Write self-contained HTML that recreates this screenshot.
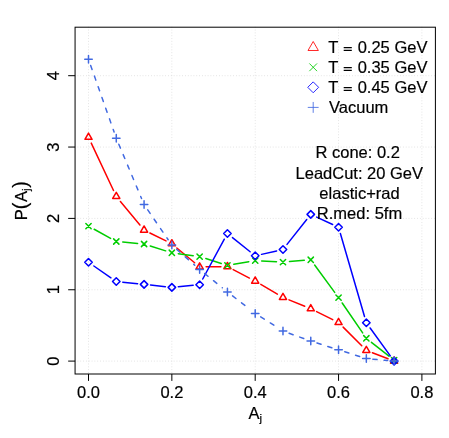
<!DOCTYPE html>
<html><head><meta charset="utf-8"><title>plot</title>
<style>
html,body{margin:0;padding:0;background:#fff;}
body{width:449px;height:438px;position:relative;overflow:hidden;font-family:"Liberation Sans",sans-serif;color:#000;}
svg{position:absolute;left:0;top:0;display:block;will-change:transform;}
svg text{stroke:#000;stroke-width:0.2px;}
</style></head><body>
<svg width="449" height="438" viewBox="0 0 449 438" font-family="'Liberation Sans', sans-serif" fill="#000">
<path d="M88.50,27.2V374.0M171.85,27.2V374.0M255.20,27.2V374.0M338.55,27.2V374.0M421.90,27.2V374.0M75.07,361.10H435.4M75.07,289.75H435.4M75.07,218.40H435.4M75.07,147.05H435.4M75.07,75.70H435.4" stroke="#d3d3d3" stroke-width="0.75" stroke-dasharray="0 2.83" stroke-linecap="round" fill="none"/>
<path d="M91.26,143.08L113.52,190.52M120.42,201.42L139.93,225.08M149.90,232.97L166.02,240.93M176.85,247.96L194.64,262.74M206.13,266.83L220.92,266.67M233.18,269.61L249.44,278.09M260.81,284.39L277.38,294.11M289.00,299.85L304.75,306.25M316.59,311.59L332.73,319.61M343.14,327.11L361.75,345.79M372.40,352.74L388.05,358.76" stroke="#ff0000" stroke-width="1.5" stroke-linecap="round" fill="none"/>
<g stroke="#ff0000" stroke-width="1.5" stroke-linecap="round" stroke-linejoin="round" fill="none"><path d="M88.50,133.08L92.07,139.26L84.93,139.26Z"/><path d="M116.28,192.28L119.85,198.46L112.71,198.46Z"/><path d="M144.07,225.98L147.64,232.16L140.50,232.16Z"/><path d="M171.85,239.68L175.42,245.86L168.28,245.86Z"/><path d="M199.63,262.78L203.20,268.96L196.06,268.96Z"/><path d="M227.42,262.48L230.99,268.66L223.85,268.66Z"/><path d="M255.20,276.98L258.77,283.16L251.63,283.16Z"/><path d="M282.98,293.28L286.55,299.46L279.41,299.46Z"/><path d="M310.77,304.58L314.34,310.76L307.20,310.76Z"/><path d="M338.55,318.38L342.12,324.56L334.98,324.56Z"/><path d="M366.33,346.28L369.90,352.46L362.76,352.46Z"/><path d="M394.12,356.98L397.69,363.16L390.55,363.16Z"/></g>
<path d="M94.19,229.25L110.60,238.35M122.76,242.08L137.59,243.42M150.26,245.96L165.65,250.84M178.29,253.68L193.19,255.72M205.83,258.56L221.22,263.44M233.82,264.29L248.79,261.71M261.69,260.95L276.49,261.75M289.46,261.56L304.29,260.34M314.62,265.04L334.70,292.36M342.21,302.97L362.67,332.93M371.44,342.32L389.01,356.18" stroke="#00cd00" stroke-width="1.5" stroke-linecap="round" fill="none"/>
<g stroke="#00cd00" stroke-width="1.5" stroke-linecap="round" stroke-linejoin="round" fill="none"><path d="M85.85,223.45L91.15,228.75M85.85,228.75L91.15,223.45"/><path d="M113.63,238.85L118.93,244.15M113.63,244.15L118.93,238.85"/><path d="M141.42,241.35L146.72,246.65M141.42,246.65L146.72,241.35"/><path d="M169.20,250.15L174.50,255.45M169.20,255.45L174.50,250.15"/><path d="M196.98,253.95L202.28,259.25M196.98,259.25L202.28,253.95"/><path d="M224.77,262.75L230.07,268.05M224.77,268.05L230.07,262.75"/><path d="M252.55,257.95L257.85,263.25M252.55,263.25L257.85,257.95"/><path d="M280.33,259.45L285.63,264.75M280.33,264.75L285.63,259.45"/><path d="M308.12,257.15L313.42,262.45M308.12,262.45L313.42,257.15"/><path d="M335.90,294.95L341.20,300.25M335.90,300.25L341.20,294.95"/><path d="M363.68,335.65L368.98,340.95M363.68,340.95L368.98,335.65"/><path d="M391.47,357.55L396.77,362.85M391.47,362.85L396.77,357.55"/></g>
<path d="M93.85,266.00L110.94,277.80M122.75,282.17L137.60,283.73M150.53,285.10L165.39,286.70M178.32,286.77L193.16,285.33M202.73,278.99L224.32,239.21M232.49,237.57L250.13,251.73M261.54,254.36L276.64,250.94M287.02,244.40L306.73,219.50M316.67,217.12L332.65,224.48M340.37,233.44L364.52,316.46M370.14,327.97L390.31,355.83" stroke="#0000ff" stroke-width="1.5" stroke-linecap="round" fill="none"/>
<g stroke="#0000ff" stroke-width="1.5" stroke-linecap="round" stroke-linejoin="round" fill="none"><path d="M84.75,262.30L88.50,266.05L92.25,262.30L88.50,258.55Z"/><path d="M112.54,281.50L116.28,285.25L120.03,281.50L116.28,277.75Z"/><path d="M140.32,284.40L144.07,288.15L147.81,284.40L144.07,280.65Z"/><path d="M168.10,287.40L171.85,291.15L175.60,287.40L171.85,283.65Z"/><path d="M195.89,284.70L199.63,288.45L203.38,284.70L199.63,280.95Z"/><path d="M223.67,233.50L227.42,237.25L231.16,233.50L227.42,229.75Z"/><path d="M251.45,255.80L255.20,259.55L258.95,255.80L255.20,252.05Z"/><path d="M279.24,249.50L282.98,253.25L286.73,249.50L282.98,245.75Z"/><path d="M307.02,214.40L310.77,218.15L314.51,214.40L310.77,210.65Z"/><path d="M334.80,227.20L338.55,230.95L342.30,227.20L338.55,223.45Z"/><path d="M362.59,322.70L366.33,326.45L370.08,322.70L366.33,318.95Z"/><path d="M390.37,361.10L394.12,364.85L397.86,361.10L394.12,357.35Z"/></g>
<path d="M90.66,65.43L114.12,132.07M118.80,144.19L141.55,198.51M147.74,209.86L168.18,239.74M176.73,249.39L194.75,265.21M204.69,273.58L222.36,287.82M232.56,295.88L250.06,309.42M260.69,316.88L277.49,327.52M289.09,333.22L304.66,338.88M316.97,343.04L332.35,347.86M344.75,351.76L360.14,356.64M372.81,359.18L387.64,360.52" stroke="#4169e1" stroke-width="1.5" stroke-linecap="round" fill="none" stroke-dasharray="4.25 7.08"/>
<g stroke="#4169e1" stroke-width="1.5" stroke-linecap="round" stroke-linejoin="round" fill="none"><path d="M84.75,59.30L92.25,59.30M88.50,55.55L88.50,63.05"/><path d="M112.54,138.20L120.03,138.20M116.28,134.45L116.28,141.95"/><path d="M140.32,204.50L147.81,204.50M144.07,200.75L144.07,208.25"/><path d="M168.10,245.10L175.60,245.10M171.85,241.35L171.85,248.85"/><path d="M195.89,269.50L203.38,269.50M199.63,265.75L199.63,273.25"/><path d="M223.67,291.90L231.16,291.90M227.42,288.15L227.42,295.65"/><path d="M251.45,313.40L258.95,313.40M255.20,309.65L255.20,317.15"/><path d="M279.24,331.00L286.73,331.00M282.98,327.25L282.98,334.75"/><path d="M307.02,341.10L314.51,341.10M310.77,337.35L310.77,344.85"/><path d="M334.80,349.80L342.30,349.80M338.55,346.05L338.55,353.55"/><path d="M362.59,358.60L370.08,358.60M366.33,354.85L366.33,362.35"/><path d="M390.37,361.10L397.86,361.10M394.12,357.35L394.12,364.85"/></g>
<rect x="75.07" y="27.2" width="360.33" height="346.80" fill="none" stroke="#000" stroke-width="1.0"/>
<path d="M88.50,374.0v6.9M171.85,374.0v6.9M255.20,374.0v6.9M338.55,374.0v6.9M421.90,374.0v6.9M75.07,361.10h-6.9M75.07,289.75h-6.9M75.07,218.40h-6.9M75.07,147.05h-6.9M75.07,75.70h-6.9" stroke="#000" stroke-width="1.0" fill="none"/>
<g stroke="#ff0000" stroke-width="0.85" fill="none"><path d="M313.20,41.51L318.39,50.49L308.01,50.49Z"/></g>
<g stroke="#00cd00" stroke-width="0.85" fill="none"><path d="M309.35,63.45L317.05,71.15M309.35,71.15L317.05,63.45"/></g>
<g stroke="#0000ff" stroke-width="0.85" fill="none"><path d="M307.76,87.30L313.20,92.74L318.64,87.30L313.20,81.86Z"/></g>
<g stroke="#4169e1" stroke-width="0.85" fill="none"><path d="M307.76,107.40L318.64,107.40M313.20,101.96L313.20,112.84"/></g>
<text x="88.5" y="397.9" text-anchor="middle" font-size="16.5">0.0</text>
<text x="171.85" y="397.9" text-anchor="middle" font-size="16.5">0.2</text>
<text x="255.2" y="397.9" text-anchor="middle" font-size="16.5">0.4</text>
<text x="338.55" y="397.9" text-anchor="middle" font-size="16.5">0.6</text>
<text x="421.9" y="397.9" text-anchor="middle" font-size="16.5">0.8</text>
<text x="328.2" y="53.2" text-anchor="start" font-size="16.5">T</text>
<path d="M343.7,47.60H351.8M343.7,50.30H351.8" stroke="#000" stroke-width="1.25" fill="none"/>
<text x="357.7" y="53.2" text-anchor="start" font-size="16.5">0.25 GeV</text>
<text x="328.2" y="73.2" text-anchor="start" font-size="16.5">T</text>
<path d="M343.7,67.60H351.8M343.7,70.30H351.8" stroke="#000" stroke-width="1.25" fill="none"/>
<text x="357.7" y="73.2" text-anchor="start" font-size="16.5">0.35 GeV</text>
<text x="328.2" y="93.2" text-anchor="start" font-size="16.5">T</text>
<path d="M343.7,87.60H351.8M343.7,90.30H351.8" stroke="#000" stroke-width="1.25" fill="none"/>
<text x="357.7" y="93.2" text-anchor="start" font-size="16.5">0.45 GeV</text>
<text x="329.0" y="113.3" text-anchor="start" font-size="16.5">Vacuum</text>
<text x="357.7" y="158.4" text-anchor="middle" font-size="16.5">R cone: 0.2</text>
<text x="359.3" y="178.6" text-anchor="middle" font-size="16.5">LeadCut: 20 GeV</text>
<text x="359.5" y="198.7" text-anchor="middle" font-size="16.5">elastic+rad</text>
<text x="359.5" y="218.5" text-anchor="middle" font-size="16.5">R.med: 5fm</text>
<text x="255.2" y="418.7" text-anchor="middle" font-size="16.5">A<tspan font-size="11.55" dy="3">j</tspan></text>
<text transform="translate(59.2,361.1) rotate(-90)" text-anchor="middle" font-size="16.5">0</text>
<text transform="translate(59.2,289.75) rotate(-90)" text-anchor="middle" font-size="16.5">1</text>
<text transform="translate(59.2,218.4) rotate(-90)" text-anchor="middle" font-size="16.5">2</text>
<text transform="translate(59.2,147.05) rotate(-90)" text-anchor="middle" font-size="16.5">3</text>
<text transform="translate(59.2,75.7) rotate(-90)" text-anchor="middle" font-size="16.5">4</text>
<text transform="translate(27.1,200.65) rotate(-90)" text-anchor="start" font-size="16.5"><tspan x="-19.7" y="0">P</tspan><tspan x="-8.5" y="0.2" font-size="19.7">(</tspan><tspan x="-1.28" y="0">A</tspan><tspan x="9.73" y="3" font-size="11.55">j</tspan><tspan x="12.9" y="0.2" font-size="19.7">)</tspan></text>
</svg>
</body></html>
